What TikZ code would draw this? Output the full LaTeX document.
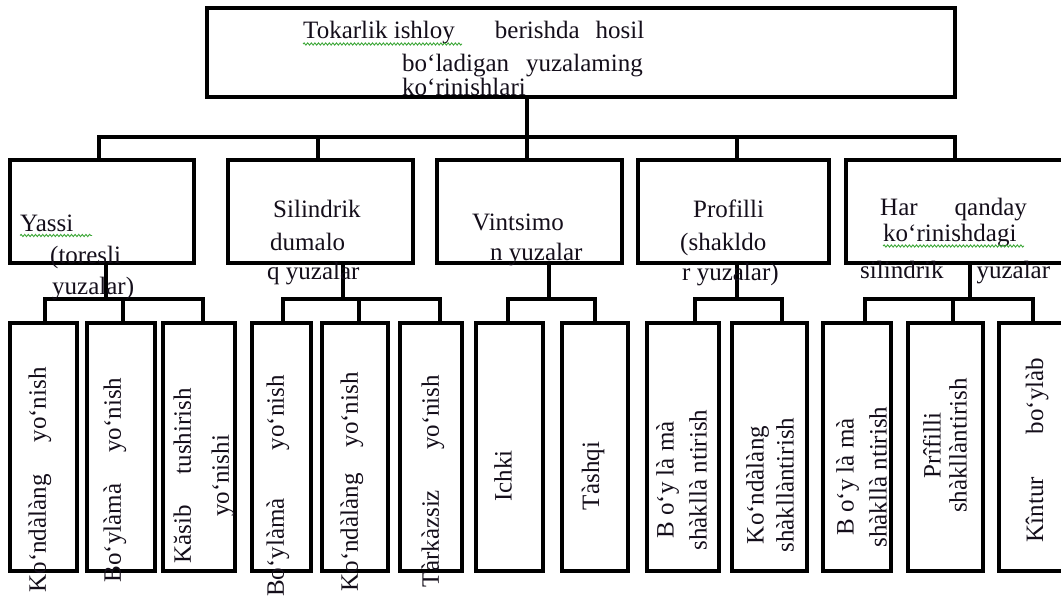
\documentclass[tikz,border=0pt]{standalone}
\usepackage{fontspec}
\setmainfont{Liberation Serif}
\usetikzlibrary{decorations.pathmorphing}

\begin{document}
\begin{tikzpicture}[x=1pt,y=-1pt,
  frame/.style={draw, line width=3.1pt, inner sep=0pt, outer sep=0pt},
  link/.style={line width=3.1pt, line join=miter},
  lbl/.style={font=\fontsize{25}{28}\selectfont, inner sep=0pt, anchor=base west, text=ink},
  vlbl/.style={font=\fontsize{25}{#1}\selectfont, inner sep=0pt, rotate=90, align=center, text=ink},
  vlbl/.default=32,
  spell/.style={draw=spellgreen, line width=0.9pt, decorate,
    decoration={snake, amplitude=1.1pt, segment length=3.6pt}}]
\definecolor{ink}{HTML}{140E1A}
\definecolor{spellgreen}{HTML}{3FA83A}

\useasboundingbox (0,0) rectangle (1061,599);
\clip (0,0) rectangle (1061,599);

% ---------- boxes ----------
\node[frame, minimum width=748pt, minimum height=89pt] (top) at (581,52.5) {};

\node[frame, minimum width=184pt, minimum height=103pt] (b1) at (102,211.5) {};
\node[frame, minimum width=185pt, minimum height=103pt] (b2) at (320.5,211.5) {};
\node[frame, minimum width=185pt, minimum height=103pt] (b3) at (529.5,211.5) {};
\node[frame, minimum width=191pt, minimum height=103pt] (b4) at (733.5,211.5) {};
\node[frame, minimum width=229pt, minimum height=103pt] (b5) at (960.5,211.5) {};

\node[frame, minimum width=67pt, minimum height=248pt] (ca) at (43.5,447) {};
\node[frame, minimum width=68pt, minimum height=248pt] (cb) at (121,447) {};
\node[frame, minimum width=72pt, minimum height=248pt] (cc) at (199,447) {};
\node[frame, minimum width=59pt, minimum height=248pt] (cd) at (281.5,447) {};
\node[frame, minimum width=66pt, minimum height=248pt] (ce) at (355,447) {};
\node[frame, minimum width=62pt, minimum height=248pt] (cf) at (431,447) {};
\node[frame, minimum width=67pt, minimum height=248pt] (cg) at (509.5,447) {};
\node[frame, minimum width=66pt, minimum height=248pt] (ch) at (595,447) {};
\node[frame, minimum width=72pt, minimum height=248pt] (ci) at (683,447) {};
\node[frame, minimum width=75pt, minimum height=248pt] (cj) at (769.5,447) {};
\node[frame, minimum width=68pt, minimum height=248pt] (ck) at (857,447) {};
\node[frame, minimum width=75pt, minimum height=248pt] (cl) at (945.5,447) {};
\node[frame, minimum width=76pt, minimum height=248pt] (cm) at (1037,447) {};

% ---------- connectors ----------
\draw[link] ([xshift=-54pt]top.south) -- ++(0,40) -| ([xshift=-3pt]b1.north);
\draw[link] ([xshift=-54pt]top.south) -- ++(0,40) -| ([xshift=-2.5pt]b2.north);
\draw[link] ([xshift=-54pt]top.south) -- ++(0,40) -| ([xshift=-2.5pt]b3.north);
\draw[link] ([xshift=-54pt]top.south) -- ++(0,40) -| ([xshift=3.5pt]b4.north);
\draw[link] ([xshift=-54pt]top.south) -- ++(0,40) -| ([xshift=-5.5pt]b5.north);

\draw[link] ([xshift=4pt]b1.south) -- ++(0,36) -| ([xshift=1.5pt]ca.north);
\draw[link] ([xshift=4pt]b1.south) -- ++(0,36) -| ([xshift=2pt]cb.north);
\draw[link] ([xshift=4pt]b1.south) -- ++(0,36) -| ([xshift=4pt]cc.north);

\draw[link] ([xshift=22.5pt]b2.south) -- ++(0,36) -| ([xshift=1.5pt]cd.north);
\draw[link] ([xshift=22.5pt]b2.south) -- ++(0,36) -| ([xshift=4pt]ce.north);
\draw[link] ([xshift=22.5pt]b2.south) -- ++(0,36) -| ([xshift=9pt]cf.north);

\draw[link] ([xshift=19.5pt]b3.south) -- ++(0,36) -| ([xshift=-1.5pt]cg.north);
\draw[link] ([xshift=19.5pt]b3.south) -- ++(0,36) -| (ch.north);

\draw[link] ([xshift=3.5pt]b4.south) -- ++(0,36) -| ([xshift=12pt]ci.north);
\draw[link] ([xshift=3.5pt]b4.south) -- ++(0,36) -| ([xshift=12.5pt]cj.north);

\draw[link] ([xshift=9.5pt]b5.south) -- ++(0,36) -| ([xshift=8pt]ck.north);
\draw[link] ([xshift=9.5pt]b5.south) -- ++(0,36) -| ([xshift=7.5pt]cl.north);
\draw[link] ([xshift=9.5pt]b5.south) -- ++(0,36) -| ([xshift=-4pt]cm.north);

% ---------- heading ----------
\node[lbl] (t1) at (303,39) {Tokarlik ishloy\hspace{40pt}berishda\hspace{16pt}hosil};
\node[lbl] (t2) at (402,72) {bo‘ladigan\hspace{17pt}yuzalaming};
\node[lbl] (t3) at (402,96) {ko‘rinishlari};
\draw[spell] (303,44) -- (462,44);

% ---------- second level ----------
\node[lbl] (y1) at (20,232) {Yassi};
\node[lbl] (y2) at (50,263) {(toresli};
\node[lbl] (y3) at (52,294) {yuzalar)};
\draw[spell] (20,235.5) -- (92,235.5);

\node[lbl] (s1) at (273,218) {Silindrik};
\node[lbl] (s2) at (270,250) {dumalo};
\node[lbl] (s3) at (267,279) {q yuzalar};

\node[lbl] (v1) at (472,230) {Vintsimo};
\node[lbl] (v2) at (490,260) {n yuzalar};

\node[lbl] (p1) at (693,218) {Profilli};
\node[lbl] (p2) at (680,250) {(shakldo};
\node[lbl] (p3) at (682,280) {r yuzalar)};

\node[lbl] (h1) at (880,215) {Har\hspace{37pt}qanday};
\node[lbl] (h2) at (883,241) {ko‘rinishdagi};
\node[lbl] (h3) at (860,278) {silindrik\hspace{33pt}yuzalar};
\draw[spell] (883,246) -- (1024,246);

% ---------- third level ----------
\node[vlbl] (la) at (40,480) {Ko‘ndàlàng\hspace{32pt}yo‘nish};
\node[vlbl] (lb) at (115,480) {Bo‘ylàmà\hspace{31pt}yo‘nish};
\node[vlbl=38] (lc) at (204,476) {Kăsib\hspace{31pt}tushirish\\yo‘nishi};
\node[vlbl] (ld) at (278,486) {Bo‘ylàmà\hspace{48pt}yo‘nish};
\node[vlbl] (le) at (352,482) {Ko‘ndàlàng\hspace{26pt}yo‘nish};
\node[vlbl] (lf) at (433,481) {Tàrkàzsiz\hspace{40pt}yo‘nish};
\node[vlbl] (lg) at (503,476) {Ichki};
\node[vlbl] (lh) at (593,476) {Tàshqi};
\node[vlbl=33] (li) at (681.5,480) {B o‘y là mà\\shàkllà ntirish};
\node[vlbl=30] (lj) at (770,485) {Ko‘ndàlàng\\shàkllàntirish};
\node[vlbl=33] (lk) at (861.5,477) {B o‘y là mà\\shàkllà ntirish};
\node[vlbl=26] (ll) at (945,445.5) {Prîfilli\\shàkllàntirish};
\node[vlbl] (lm) at (1037,450) {Kîntur\hspace{43pt}bo‘ylàb};
\end{tikzpicture}
\end{document}
